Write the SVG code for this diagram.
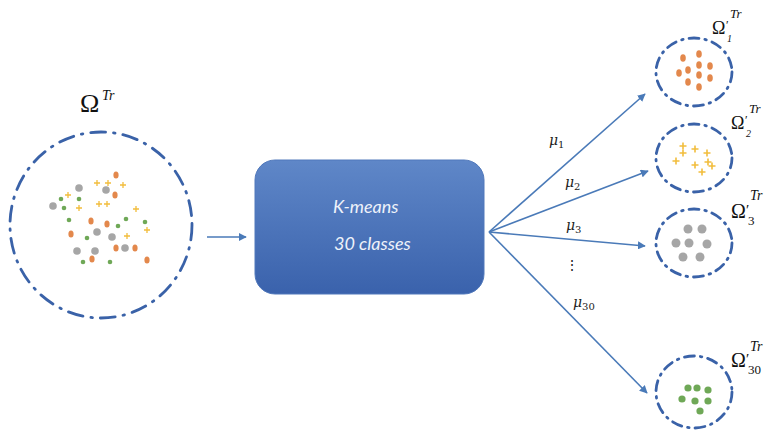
<svg xmlns="http://www.w3.org/2000/svg" xmlns:xlink="http://www.w3.org/1999/xlink" width="765" height="433" viewBox="0 0 765 433">
<style>
.ring{fill:none;stroke:#3a62a8;stroke-width:2.8;stroke-linecap:round}
.big{stroke-dasharray:15 8 1.5 8}
.small{stroke-dasharray:10 6 1.5 6}
.conn{stroke:#4a7ab8;stroke-width:1.6;fill:none}
.om{font-family:"Liberation Serif","DejaVu Serif",serif;fill:#111}
.it{font-style:italic}
.mu{font-family:"DejaVu Serif","Liberation Serif",serif;font-style:italic;fill:#222;font-size:14px}
.sub{font-style:normal;font-size:10px}
.box{font-family:Lato,"Open Sans",sans-serif;font-style:italic;font-size:18px;fill:#eef2fa}
.o{fill:#e07b39;opacity:.9}
.g{fill:#9c9c9c;opacity:.9}
.gr{fill:#5f9e45;opacity:.9}
.y{stroke:#f2bd3c;stroke-width:1.3;fill:none}
.y2{stroke:#f2bd3c;stroke-width:1.6;fill:none}
</style>
<defs>
<linearGradient id="bg" x1="0" y1="0" x2="0" y2="1">
<stop offset="0" stop-color="#5f87c8"/>
<stop offset="1" stop-color="#3a62ac"/>
</linearGradient>
<marker id="ah" viewBox="0 0 10 10" refX="9" refY="5" markerWidth="5" markerHeight="5" orient="auto" markerUnits="strokeWidth">
<path d="M0,0L10,5L0,10z" fill="#4a7ab8"/>
</marker>
<path id="p" d="M-3,0H3M0,-3V3"/>
<path id="p2" d="M-3.5,0H3.5M0,-3.5V3.5"/>
</defs>

<g id="connectors">
<line class="conn" x1="207" y1="237" x2="246" y2="237" marker-end="url(#ah)"/>
<line class="conn" x1="489" y1="232" x2="645" y2="94" marker-end="url(#ah)"/>
<line class="conn" x1="489" y1="232" x2="648" y2="171" marker-end="url(#ah)"/>
<line class="conn" x1="489" y1="232" x2="645" y2="246" marker-end="url(#ah)"/>
<line class="conn" x1="489" y1="232" x2="647" y2="393" marker-end="url(#ah)"/>
<text class="mu" x="549" y="145">μ<tspan class="sub" dy="3">1</tspan></text>
<text class="mu" x="565" y="187">μ<tspan class="sub" dy="3">2</tspan></text>
<text class="mu" x="566" y="230">μ<tspan class="sub" dy="3">3</tspan></text>
<text class="mu" x="565" y="270" style="font-style:normal">⋮</text>
<text class="mu" x="573" y="307">μ<tspan class="sub" dy="3">30</tspan></text>
</g>

<g id="omega-tr">
<ellipse class="ring big" cx="101" cy="225" rx="91" ry="93"/>
<text class="om" x="80" y="112" font-size="26">Ω</text>
<text class="om it" x="102" y="100" font-size="14">Tr</text>
<g>
<ellipse class="o" cx="116" cy="175" rx="2.6" ry="3.6"/>
<ellipse class="o" cx="115" cy="195" rx="2.6" ry="3.6"/>
<ellipse class="o" cx="91" cy="221" rx="2.6" ry="3.6"/>
<ellipse class="o" cx="107" cy="224" rx="2.6" ry="3.6"/>
<ellipse class="o" cx="71" cy="234" rx="2.6" ry="3.6"/>
<ellipse class="o" cx="116" cy="248" rx="2.6" ry="3.6"/>
<ellipse class="o" cx="135" cy="248" rx="2.6" ry="3.6"/>
<ellipse class="o" cx="92" cy="259" rx="2.6" ry="3.6"/>
<ellipse class="o" cx="147" cy="260" rx="2.6" ry="3.6"/>
<circle class="g" cx="79" cy="188" r="3.8"/>
<circle class="g" cx="106" cy="190" r="3.8"/>
<circle class="g" cx="53" cy="206" r="3.8"/>
<circle class="g" cx="97" cy="232" r="3.8"/>
<circle class="g" cx="112" cy="237" r="3.8"/>
<circle class="g" cx="77" cy="251" r="3.8"/>
<circle class="g" cx="95" cy="251" r="3.8"/>
<circle class="g" cx="125" cy="248" r="3.8"/>
<circle class="gr" cx="61" cy="199" r="2.3"/>
<circle class="gr" cx="79" cy="199" r="2.3"/>
<circle class="gr" cx="64" cy="208" r="2.3"/>
<circle class="gr" cx="69" cy="220" r="2.3"/>
<circle class="gr" cx="118" cy="226" r="2.3"/>
<circle class="gr" cx="126" cy="219" r="2.3"/>
<circle class="gr" cx="145" cy="222" r="2.3"/>
<circle class="gr" cx="87" cy="238" r="2.3"/>
<circle class="gr" cx="83" cy="262" r="2.3"/>
<circle class="gr" cx="110" cy="262" r="2.3"/>
<use class="y" href="#p" x="97" y="183"/>
<use class="y" href="#p" x="108" y="183"/>
<use class="y" href="#p" x="123" y="185"/>
<use class="y" href="#p" x="68" y="195"/>
<use class="y" href="#p" x="99" y="204"/>
<use class="y" href="#p" x="107" y="204"/>
<use class="y" href="#p" x="79" y="208"/>
<use class="y" href="#p" x="136" y="209"/>
<use class="y" href="#p" x="127" y="236"/>
<use class="y" href="#p" x="147" y="230"/>
</g>
</g>

<g id="kmeans">
<rect x="255" y="160" width="229" height="134" rx="20" ry="20" fill="url(#bg)" stroke="#5078bb" stroke-width="1"/>
<text class="box" x="333" y="213">K-means</text>
<text class="box" x="334" y="250">30 classes</text>
</g>

<g id="omega1">
<ellipse class="ring small" cx="694" cy="72" rx="38" ry="34"/>
<text class="om" x="712" y="34" font-size="18">Ω</text>
<text class="om" x="726" y="29" font-size="12">′</text>
<text class="om it" x="730" y="18" font-size="13">Tr</text>
<text class="om it" x="727" y="42" font-size="10">1</text>
<ellipse class="o" cx="683" cy="58" rx="2.8" ry="3.8"/>
<ellipse class="o" cx="699" cy="54" rx="2.8" ry="3.8"/>
<ellipse class="o" cx="688" cy="70" rx="2.8" ry="3.8"/>
<ellipse class="o" cx="699" cy="65" rx="2.8" ry="3.8"/>
<ellipse class="o" cx="699" cy="75" rx="2.8" ry="3.8"/>
<ellipse class="o" cx="679" cy="73" rx="2.8" ry="3.8"/>
<ellipse class="o" cx="710" cy="66" rx="2.8" ry="3.8"/>
<ellipse class="o" cx="710" cy="78" rx="2.8" ry="3.8"/>
<ellipse class="o" cx="688" cy="82" rx="2.8" ry="3.8"/>
<ellipse class="o" cx="699" cy="87" rx="2.8" ry="3.8"/>
</g>

<g id="omega2">
<ellipse class="ring small" cx="694" cy="158" rx="38" ry="34"/>
<text class="om" x="731" y="129" font-size="18">Ω</text>
<text class="om" x="745" y="124" font-size="12">′</text>
<text class="om it" x="749" y="113" font-size="13">Tr</text>
<text class="om it" x="746" y="137" font-size="10">2</text>
<use class="y2" href="#p2" x="683" y="146"/>
<use class="y2" href="#p2" x="683" y="153"/>
<use class="y2" href="#p2" x="695" y="149"/>
<use class="y2" href="#p2" x="707" y="153"/>
<use class="y2" href="#p2" x="676" y="161"/>
<use class="y2" href="#p2" x="708" y="162"/>
<use class="y2" href="#p2" x="695" y="165"/>
<use class="y2" href="#p2" x="702" y="172"/>
<use class="y2" href="#p2" x="712" y="166"/>
</g>

<g id="omega3">
<ellipse class="ring small" cx="694" cy="243" rx="38" ry="34"/>
<text class="om" x="731" y="218" font-size="20">Ω</text>
<text class="om" x="746" y="215" font-size="15">′</text>
<text class="om it" x="750" y="200" font-size="14">Tr</text>
<text class="om" x="748" y="225" font-size="13">3</text>
<circle class="g" cx="688" cy="229" r="4.5"/>
<circle class="g" cx="702" cy="229" r="4.5"/>
<circle class="g" cx="676" cy="243" r="4.5"/>
<circle class="g" cx="689" cy="243" r="4.5"/>
<circle class="g" cx="707" cy="244" r="4.5"/>
<circle class="g" cx="683" cy="257" r="4.5"/>
<circle class="g" cx="700" cy="257" r="4.5"/>
</g>

<g id="omega30">
<ellipse class="ring small" cx="694" cy="392" rx="38" ry="36"/>
<text class="om" x="731" y="367" font-size="20">Ω</text>
<text class="om" x="746" y="364" font-size="15">′</text>
<text class="om it" x="750" y="351" font-size="14">Tr</text>
<text class="om" x="748" y="374" font-size="13">30</text>
<circle class="gr" cx="688" cy="388" r="3.6"/>
<circle class="gr" cx="697" cy="388" r="3.6"/>
<circle class="gr" cx="708" cy="390" r="3.6"/>
<circle class="gr" cx="682" cy="399" r="3.6"/>
<circle class="gr" cx="695" cy="401" r="3.6"/>
<circle class="gr" cx="708" cy="401" r="3.6"/>
<circle class="gr" cx="700" cy="411" r="3.6"/>
</g>
</svg>
